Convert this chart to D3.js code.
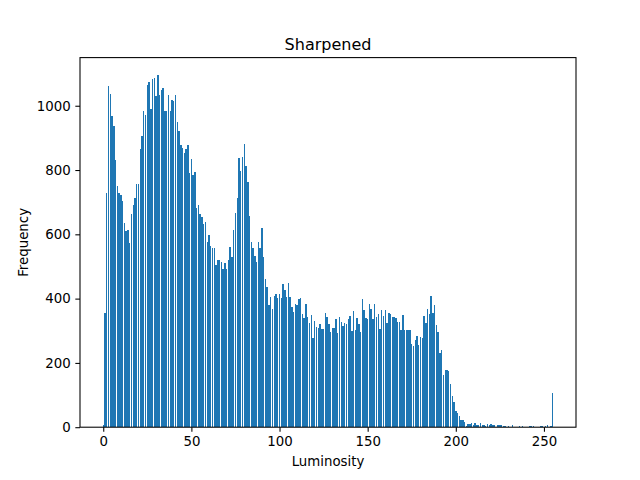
<!DOCTYPE html>
<html>
<head>
<meta charset="utf-8">
<script src="https://cdn.jsdelivr.net/npm/d3@7"></script>
<style>
  html, body { margin: 0; padding: 0; background: #ffffff; }
  svg { display: block; }
  text { font-family: "DejaVu Sans", sans-serif; }
</style>
</head>
<body>
<svg id="chart" width="640" height="480"></svg>
<script>
// ---- data ----
const titleText = "Sharpened";
const xLabel = "Luminosity";
const yLabel = "Frequency";
const xTicks = [0, 50, 100, 150, 200, 250];
const yTicks = [0, 200, 400, 600, 800, 1000];
// frequency per luminosity level 0..255
const frequency = [
  6, 355, 730, 1062, 1037, 967, 936, 832, 751, 728,
  723, 704, 635, 610, 613, 574, 663, 691, 714, 756,
  758, 866, 906, 984, 970, 1066, 1073, 990, 1083, 1087,
  1030, 1095, 1034, 1050, 1056, 984, 984, 1034, 984, 1018,
  1015, 1034, 949, 921, 878, 868, 854, 865, 878, 790,
  834, 785, 793, 681, 691, 664, 653, 631, 637, 576,
  598, 564, 558, 558, 504, 520, 520, 514, 492, 511,
  492, 520, 561, 530, 614, 667, 713, 838, 797, 841,
  881, 813, 763, 658, 576, 558, 533, 514, 576, 558,
  620, 530, 461, 436, 380, 405, 368, 408, 414, 402,
  414, 402, 446, 427, 405, 449, 405, 374, 358, 383,
  380, 399, 402, 352, 340, 383, 343, 324, 349, 277,
  330, 312, 308, 321, 306, 306, 355, 343, 321, 296,
  308, 308, 337, 293, 343, 327, 315, 324, 321, 336,
  346, 299, 361, 302, 339, 321, 296, 399, 364, 339,
  336, 383, 367, 336, 383, 343, 352, 305, 364, 346,
  364, 324, 355, 352, 343, 343, 339, 327, 327, 302,
  349, 302, 302, 302, 302, 258, 252, 271, 283, 255,
  280, 277, 346, 324, 367, 352, 408, 355, 380, 318,
  296, 230, 240, 162, 178, 178, 176, 134, 97, 78,
  50, 44, 34, 22, 22, 15, 3, 9, 9, 12,
  6, 12, 6, 6, 12, 6, 6, 3, 9, 6,
  9, 6, 6, 0, 6, 6, 6, 3, 3, 0,
  3, 0, 6, 0, 0, 0, 3, 0, 3, 0,
  0, 0, 3, 3, 3, 0, 0, 0, 3, 3,
  0, 3, 6, 0, 3, 107
];
const levels = frequency.map((_, i) => i);

// ---- layout ----
const plotLeft = 80, plotRight = 576, plotTop = 57.6, plotBottom = 427.2;
const barWidth = 0.8;
const barColor = "#1f77b4";

const svg = d3.select("#chart");

const xMin = -barWidth / 2, xMax = levels.length - 1 + barWidth / 2;
const xPad = (xMax - xMin) * 0.05;
const x = d3.scaleLinear().domain([xMin - xPad, xMax + xPad]).range([plotLeft, plotRight]);
const yMax = d3.max(frequency) * 1.05;
const y = d3.scaleLinear().domain([0, yMax]).range([plotBottom, plotTop]);

// bars
svg.append("g")
  .attr("shape-rendering", "crispEdges")
  .selectAll("rect")
  .data(levels)
  .join("rect")
  .attr("x", d => x(d - barWidth / 2))
  .attr("width", d => x(d + barWidth / 2) - x(d - barWidth / 2))
  .attr("y", d => y(frequency[d]))
  .attr("height", d => y(0) - y(frequency[d]))
  .attr("fill", barColor);

const tickLen = 4.67, tickPad = 4.67;

// x axis
const gx = svg.append("g")
  .attr("transform", `translate(0,${plotBottom})`)
  .call(d3.axisBottom(x).tickValues(xTicks).tickFormat(d3.format("d"))
    .tickSize(tickLen).tickPadding(tickPad).tickSizeOuter(0));
gx.select(".domain").remove();
gx.selectAll(".tick line").attr("stroke", "#000").attr("stroke-width", 1.07);
gx.selectAll(".tick text").attr("font-size", 13.33).attr("fill", "#000")
  .attr("font-family", "DejaVu Sans, sans-serif");

// y axis
const gy = svg.append("g")
  .attr("transform", `translate(${plotLeft},0)`)
  .call(d3.axisLeft(y).tickValues(yTicks).tickFormat(d3.format("d"))
    .tickSize(tickLen).tickPadding(tickPad).tickSizeOuter(0));
gy.select(".domain").remove();
gy.selectAll(".tick line").attr("stroke", "#000").attr("stroke-width", 1.07);
gy.selectAll(".tick text").attr("font-size", 13.33).attr("fill", "#000")
  .attr("font-family", "DejaVu Sans, sans-serif");

// frame
svg.append("rect")
  .attr("x", plotLeft).attr("y", plotTop)
  .attr("width", plotRight - plotLeft).attr("height", plotBottom - plotTop)
  .attr("fill", "none").attr("stroke", "#000").attr("stroke-width", 1.07);

// title
svg.append("text")
  .attr("x", (plotLeft + plotRight) / 2).attr("y", 49.6)
  .attr("text-anchor", "middle").attr("font-size", 16).attr("fill", "#000")
  .text(titleText);

// x label
svg.append("text")
  .attr("x", (plotLeft + plotRight) / 2).attr("y", 466)
  .attr("text-anchor", "middle").attr("font-size", 13.33).attr("fill", "#000")
  .text(xLabel);

// y label
svg.append("text")
  .attr("transform", `translate(28,${(plotTop + plotBottom) / 2}) rotate(-90)`)
  .attr("text-anchor", "middle").attr("font-size", 13.33).attr("fill", "#000")
  .text(yLabel);
</script>
</body>
</html>
